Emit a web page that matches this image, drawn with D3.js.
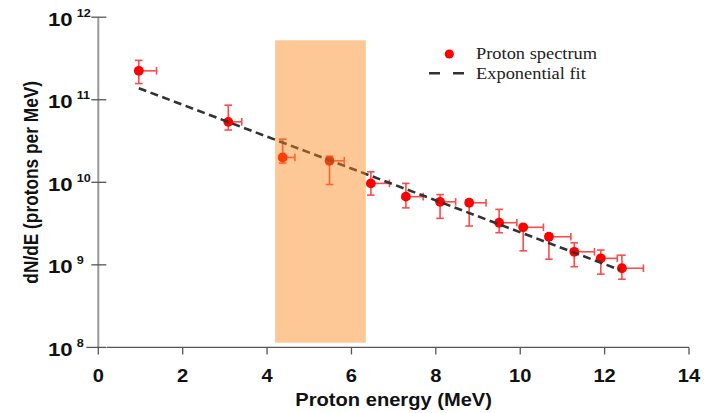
<!DOCTYPE html>
<html>
<head>
<meta charset="utf-8">
<script src="https://cdn.jsdelivr.net/npm/d3@7"></script>
<style>
  body { margin: 0; background: #fff; }
  svg { display: block; }
</style>
</head>
<body>
<svg></svg>
<script>
/* data */
const energy     = [0.96, 3.08, 4.37, 5.48, 6.46, 7.29, 8.10, 8.79, 9.50, 10.07, 10.68, 11.28, 11.91, 12.41];
const energyErr  = [0.42, 0.32, 0.29, 0.35, 0.44, 0.41, 0.37, 0.40, 0.42, 0.48, 0.52, 0.48, 0.39, 0.51];
const counts     = [2.24e11, 5.4e10, 2.0e10, 1.82e10, 9.7e9, 6.7e9, 5.8e9, 5.65e9, 3.24e9, 2.85e9, 2.19e9, 1.44e9, 1.2e9, 9.1e8];
const countsHigh = [3.0e11, 8.6e10, 3.33e10, 2.07e10, 1.34e10, 9.7e9, 7.1e9, 6.1e9, 4.7e9, 3.0e9, 2.36e9, 1.85e9, 1.51e9, 1.31e9];
const countsLow  = [1.57e11, 4.3e10, 1.71e10, 9.4e9, 7.0e9, 4.9e9, 3.66e9, 2.95e9, 2.45e9, 1.48e9, 1.17e9, 9.5e8, 7.7e8, 6.7e8];

// exponential fit: end points of the straight line (log scale)
const fitEnergy = [0.96, 12.37];
const fitCounts = [1.38e11, 8.65e8];

// shaded energy window
const bandEnergy = [4.19, 6.34];
const bandCounts = [1.14e8, 5.26e11];

const xTicks = [0, 2, 4, 6, 8, 10, 12, 14];
const yExponents = [8, 9, 10, 11, 12];

/* basic setup */
let svgWidth = 704;
let svgHeight = 413;
const svg = d3.select("svg")
    .attr("width", svgWidth)
    .attr("height", svgHeight);

const x = d3.scaleLinear().domain([0, 14]).range([98.3, 689]);
const y = d3.scaleLog().domain([1e8, 1e12]).range([347.4, 17.2]);

const points = energy.map((e, i) => ({
    e: e, de: energyErr[i], n: counts[i], hi: countsHigh[i], lo: countsLow[i]
}));

/* axes */
// x axis
const xAxis = svg.append("g")
    .attr("transform", "translate(0," + y(1e8) + ")");
xAxis.append("line")
    .attr("x1", 106.7).attr("x2", x(14))
    .attr("stroke", "#555").attr("stroke-width", 1.3);
const xt = xAxis.selectAll("g.xtick")
    .data(xTicks)
    .enter().append("g")
    .attr("class", "xtick")
    .attr("transform", d => "translate(" + x(d) + ",0)");
xt.append("line")
    .attr("y1", 0).attr("y2", 7)
    .attr("stroke", "#555").attr("stroke-width", 1.3);
xt.append("text")
    .attr("transform", "translate(0,35) scale(1.15,1)")
    .attr("text-anchor", "middle")
    .attr("font-family", "Liberation Sans, Arial, sans-serif")
    .attr("font-weight", "bold")
    .attr("font-size", 17.5)
    .attr("fill", "#111")
    .text(d => d);

// y axis
const yAxis = svg.append("g")
    .attr("transform", "translate(" + x(0) + ",0)");
yAxis.append("line")
    .attr("y1", y(1e12)).attr("y2", y(1e8))
    .attr("stroke", "#999").attr("stroke-width", 2);
const yt = yAxis.selectAll("g.ytick")
    .data(yExponents)
    .enter().append("g")
    .attr("class", "ytick")
    .attr("transform", d => "translate(0," + y(Math.pow(10, d)) + ")");
yt.append("line")
    .attr("x1", d => d === 8 ? -12 : -7).attr("x2", 8)
    .attr("stroke", "#555").attr("stroke-width", 1.3);

const ylab = svg.selectAll("g.ylab")
    .data(yExponents)
    .enter().append("g")
    .attr("class", "ylab")
    .attr("transform", d => "translate(48," + y(Math.pow(10, d)) + ") scale(1.2,1)")
    .attr("font-family", "Liberation Sans, Arial, sans-serif")
    .attr("font-weight", "bold")
    .attr("fill", "#111");
ylab.append("text")
    .attr("y", 8.5)
    .attr("font-size", 18.5)
    .text("10");
ylab.append("text")
    .attr("x", 24)
    .attr("y", -0.5)
    .attr("font-size", 10.5)
    .text(d => d);

// axis titles
svg.append("text")
    .attr("transform", "translate(" + (x(0) + x(14)) / 2 + ",406) scale(1.15,1)")
    .attr("text-anchor", "middle")
    .attr("font-family", "Liberation Sans, Arial, sans-serif")
    .attr("font-weight", "bold")
    .attr("font-size", 17.5)
    .attr("fill", "#111")
    .text("Proton energy (MeV)");

svg.append("text")
    .attr("transform", "translate(38," + (y(1e12) + y(1e8)) / 2 + ") rotate(-90) scale(1,1.12)")
    .attr("text-anchor", "middle")
    .attr("font-family", "Liberation Sans, Arial, sans-serif")
    .attr("font-weight", "bold")
    .attr("font-size", 17.3)
    .attr("fill", "#111")
    .text("dN/dE (protons per MeV)");

/* error bars */
const errColor = "#ff4a4a";
const eb = svg.append("g")
    .attr("stroke", errColor)
    .attr("stroke-width", 1.6)
    .attr("fill", "none");

// vertical
eb.selectAll("line.v")
    .data(points).enter().append("line")
    .attr("x1", d => x(d.e)).attr("x2", d => x(d.e))
    .attr("y1", d => y(d.hi)).attr("y2", d => y(d.lo));
eb.selectAll("line.vt")
    .data(points).enter().append("line")
    .attr("x1", d => x(d.e) - 3.8).attr("x2", d => x(d.e) + 3.8)
    .attr("y1", d => y(d.hi)).attr("y2", d => y(d.hi));
eb.selectAll("line.vb")
    .data(points).enter().append("line")
    .attr("x1", d => x(d.e) - 3.8).attr("x2", d => x(d.e) + 3.8)
    .attr("y1", d => y(d.lo)).attr("y2", d => y(d.lo));
// horizontal (right side only)
eb.selectAll("line.h")
    .data(points).enter().append("line")
    .attr("x1", d => x(d.e)).attr("x2", d => x(d.e + d.de))
    .attr("y1", d => y(d.n)).attr("y2", d => y(d.n));
eb.selectAll("line.hc")
    .data(points).enter().append("line")
    .attr("x1", d => x(d.e + d.de)).attr("x2", d => x(d.e + d.de))
    .attr("y1", d => y(d.n) - 3.8).attr("y2", d => y(d.n) + 3.8);

/* points */
svg.append("g").selectAll("circle")
    .data(points).enter().append("circle")
    .attr("cx", d => x(d.e))
    .attr("cy", d => y(d.n))
    .attr("r", 4.9)
    .attr("fill", "#ff0000");

/* exponential fit */
const fitLine = d3.line()
    .x(d => x(d[0]))
    .y(d => y(d[1]));
svg.append("path")
    .datum(fitEnergy.map((e, i) => [e, fitCounts[i]]))
    .attr("d", fitLine)
    .attr("fill", "none")
    .attr("stroke", "#333")
    .attr("stroke-width", 2.6)
    .attr("stroke-dasharray", "8,4.5");

/* shaded band on top */
svg.append("rect")
    .attr("x", x(bandEnergy[0]))
    .attr("width", x(bandEnergy[1]) - x(bandEnergy[0]))
    .attr("y", y(bandCounts[1]))
    .attr("height", y(bandCounts[0]) - y(bandCounts[1]))
    .attr("fill", "rgb(250,133,22)")
    .attr("fill-opacity", 0.45);

/* legend */
const legend = svg.append("g")
    .attr("font-family", "Liberation Serif, Times New Roman, serif")
    .attr("font-size", 16)
    .attr("fill", "#222");
legend.append("circle")
    .attr("cx", 449.3).attr("cy", 54)
    .attr("r", 4.6)
    .attr("fill", "#ff0000");
legend.append("text")
    .attr("transform", "translate(476,58.5) scale(1.15,1)")
    .text("Proton spectrum");
legend.append("line")
    .attr("x1", 429).attr("x2", 464)
    .attr("y1", 73.3).attr("y2", 73.3)
    .attr("stroke", "#333")
    .attr("stroke-width", 2.4)
    .attr("stroke-dasharray", "11,13");
legend.append("text")
    .attr("transform", "translate(476,78.5) scale(1.15,1)")
    .text("Exponential fit");
</script>
</body>
</html>
